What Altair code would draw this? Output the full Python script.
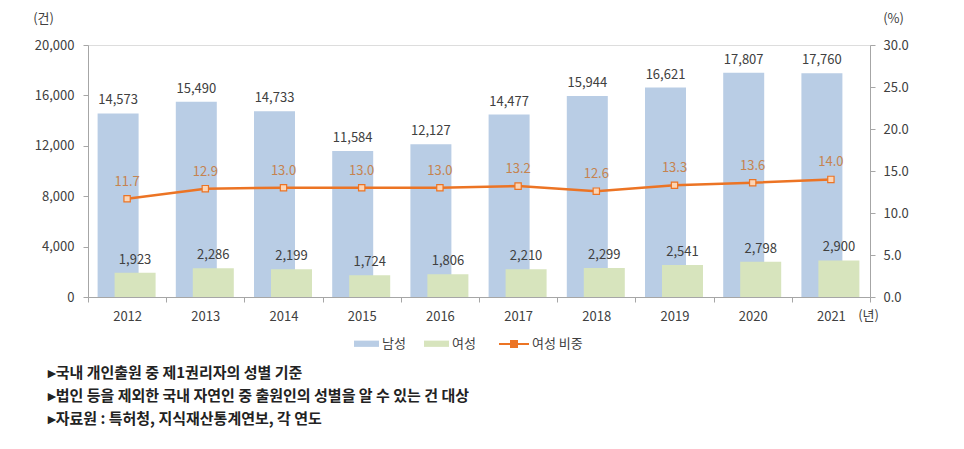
import altair as alt
import pandas as pd

years = ["2012", "2013", "2014", "2015", "2016", "2017", "2018", "2019", "2020", "2021"]
male = [14573, 15490, 14733, 11584, 12127, 14477, 15944, 16621, 17807, 17760]
female = [1923, 2286, 2199, 1724, 1806, 2210, 2299, 2541, 2798, 2900]
female_ratio = [11.7, 12.9, 13.0, 13.0, 13.0, 13.2, 12.6, 13.3, 13.6, 14.0]
notes = [
    "▸국내 개인출원 중 제1권리자의 성별 기준",
    "▸법인 등을 제외한 국내 자연인 중 출원인의 성별을 알 수 있는 건 대상",
    "▸자료원 : 특허청, 지식재산통계연보, 각 연도",
]

FONT = "Noto Sans CJK KR"
BLUE = "#b9cde5"
GREEN = "#d7e4bd"
ORANGE = "#ec7424"
LABEL_ORANGE = "#c6834f"
TXT = "#404040"

df = pd.DataFrame({
    "연도": years,
    "남성": male,
    "여성": female,
    "비중": female_ratio,
})
df_long = df.melt(id_vars=["연도"], value_vars=["남성", "여성"], var_name="성별", value_name="건수")
df["계열"] = "여성 비중"

x_enc = alt.X(
    "연도:N",
    sort=years,
    scale=alt.Scale(paddingInner=0, paddingOuter=0),
    axis=alt.Axis(
        title="(년)", titleAngle=0, titleX=780, titleY=18, titleAlign="center",
        titleBaseline="middle", titleFontWeight="normal", titleFontSize=13, titleColor=TXT,
        labelAngle=0, labelFontSize=13, labelColor=TXT, labelPadding=8,
        tickBand="extent", tickSize=5, tickColor="#a6a6a6", domainColor="#a6a6a6",
    ),
)

left_axis = alt.Axis(
    title="(건)", titleAngle=0, titleX=-45, titleY=-27, titleAlign="center",
    titleBaseline="middle", titleFontWeight="normal", titleFontSize=13, titleColor=TXT,
    values=[0, 4000, 8000, 12000, 16000, 20000], format=",.0f", grid=False,
    labelFontSize=13, labelColor=TXT, labelPadding=9, tickSize=5,
    tickColor="#a6a6a6", domainColor="#a6a6a6",
)
y_left = alt.Y("건수:Q", scale=alt.Scale(domain=[0, 20000]), axis=left_axis)

color_bar = alt.Color(
    "성별:N",
    scale=alt.Scale(domain=["남성", "여성"], range=[BLUE, GREEN]),
    legend=alt.Legend(
        title=None, orient="none", direction="horizontal", legendX=266, legendY=286,
        symbolType="M-1,-0.25H1V0.25H-1Z", symbolSize=625, symbolStrokeWidth=0,
        labelFontSize=13, labelColor=TXT, labelFont=FONT, columnPadding=18, labelOffset=3,
    ),
)

male_bars = alt.Chart(df_long).transform_filter(alt.datum["성별"] == "남성").mark_bar(
    width=41, xOffset=-9
).encode(x=x_enc, y=y_left, color=color_bar)
female_bars = alt.Chart(df_long).transform_filter(alt.datum["성별"] == "여성").mark_bar(
    width=41, xOffset=8
).encode(x=x_enc, y=y_left, color=color_bar)
male_text = alt.Chart(df_long).transform_filter(alt.datum["성별"] == "남성").mark_text(
    xOffset=-9, dy=-13, baseline="middle", fontSize=13, color=TXT, font=FONT
).encode(x=x_enc, y=y_left, text=alt.Text("건수:Q", format=","))
female_text = alt.Chart(df_long).transform_filter(alt.datum["성별"] == "여성").mark_text(
    xOffset=8, dy=-13, baseline="middle", fontSize=13, color=TXT, font=FONT
).encode(x=x_enc, y=y_left, text=alt.Text("건수:Q", format=","))

bars = alt.layer(male_bars, female_bars, male_text, female_text)

right_axis = alt.Axis(
    title="(%)", titleAngle=0, titleX=23, titleY=-27, titleAlign="center",
    titleBaseline="middle", titleFontWeight="normal", titleFontSize=13, titleColor=TXT,
    values=[0, 5, 10, 15, 20, 25, 30], format=".1f", grid=False, orient="right",
    labelFontSize=13, labelColor=TXT, labelPadding=8, tickSize=5,
    tickColor="#a6a6a6", domainColor="#a6a6a6",
)
y_right = alt.Y("비중:Q", scale=alt.Scale(domain=[0, 30]), axis=right_axis)

line = alt.Chart(df).mark_line(
    strokeWidth=2.5,
    point=alt.OverlayMarkDef(shape="square", size=40, filled=True, fill="#fcd5b5", stroke=ORANGE, strokeWidth=1.2),
).encode(
    x=x_enc,
    y=y_right,
    color=alt.Color(
        "계열:N",
        scale=alt.Scale(domain=["여성 비중"], range=[ORANGE]),
        legend=alt.Legend(
            title=None, orient="none", direction="horizontal", legendX=410, legendY=283,
            symbolType="M-1,0H1M-0.2,-0.2H0.2V0.2H-0.2Z", symbolSize=900,
            symbolStrokeWidth=2, symbolFillColor="#fcd5b5",
            labelFontSize=13, labelColor=TXT, labelFont=FONT, labelOffset=2,
        ),
    ),
)
line_text = alt.Chart(df).mark_text(
    dy=-17, baseline="middle", fontSize=13, color=LABEL_ORANGE, font=FONT
).encode(x=x_enc, y=y_right, text=alt.Text("비중:Q", format=".1f"))
lines = alt.layer(line, line_text)

chart = alt.layer(bars, lines).resolve_scale(
    y="independent", color="independent"
).properties(
    width=782,
    height=252,
    padding={"left": 80, "top": 37, "right": 80, "bottom": 140},
    autosize=alt.AutoSizeParams(type="none"),
    title=alt.TitleParams(
        text=notes, orient="bottom", anchor="start", dx=15, offset=15,
        fontSize=15, fontWeight="bold", font=FONT, color="#222222", lineHeight=23,
    ),
).configure_view(
    stroke=None
).configure(
    font=FONT
)

chart.save("out.html", embed_options={"renderer": "svg", "actions": False})
